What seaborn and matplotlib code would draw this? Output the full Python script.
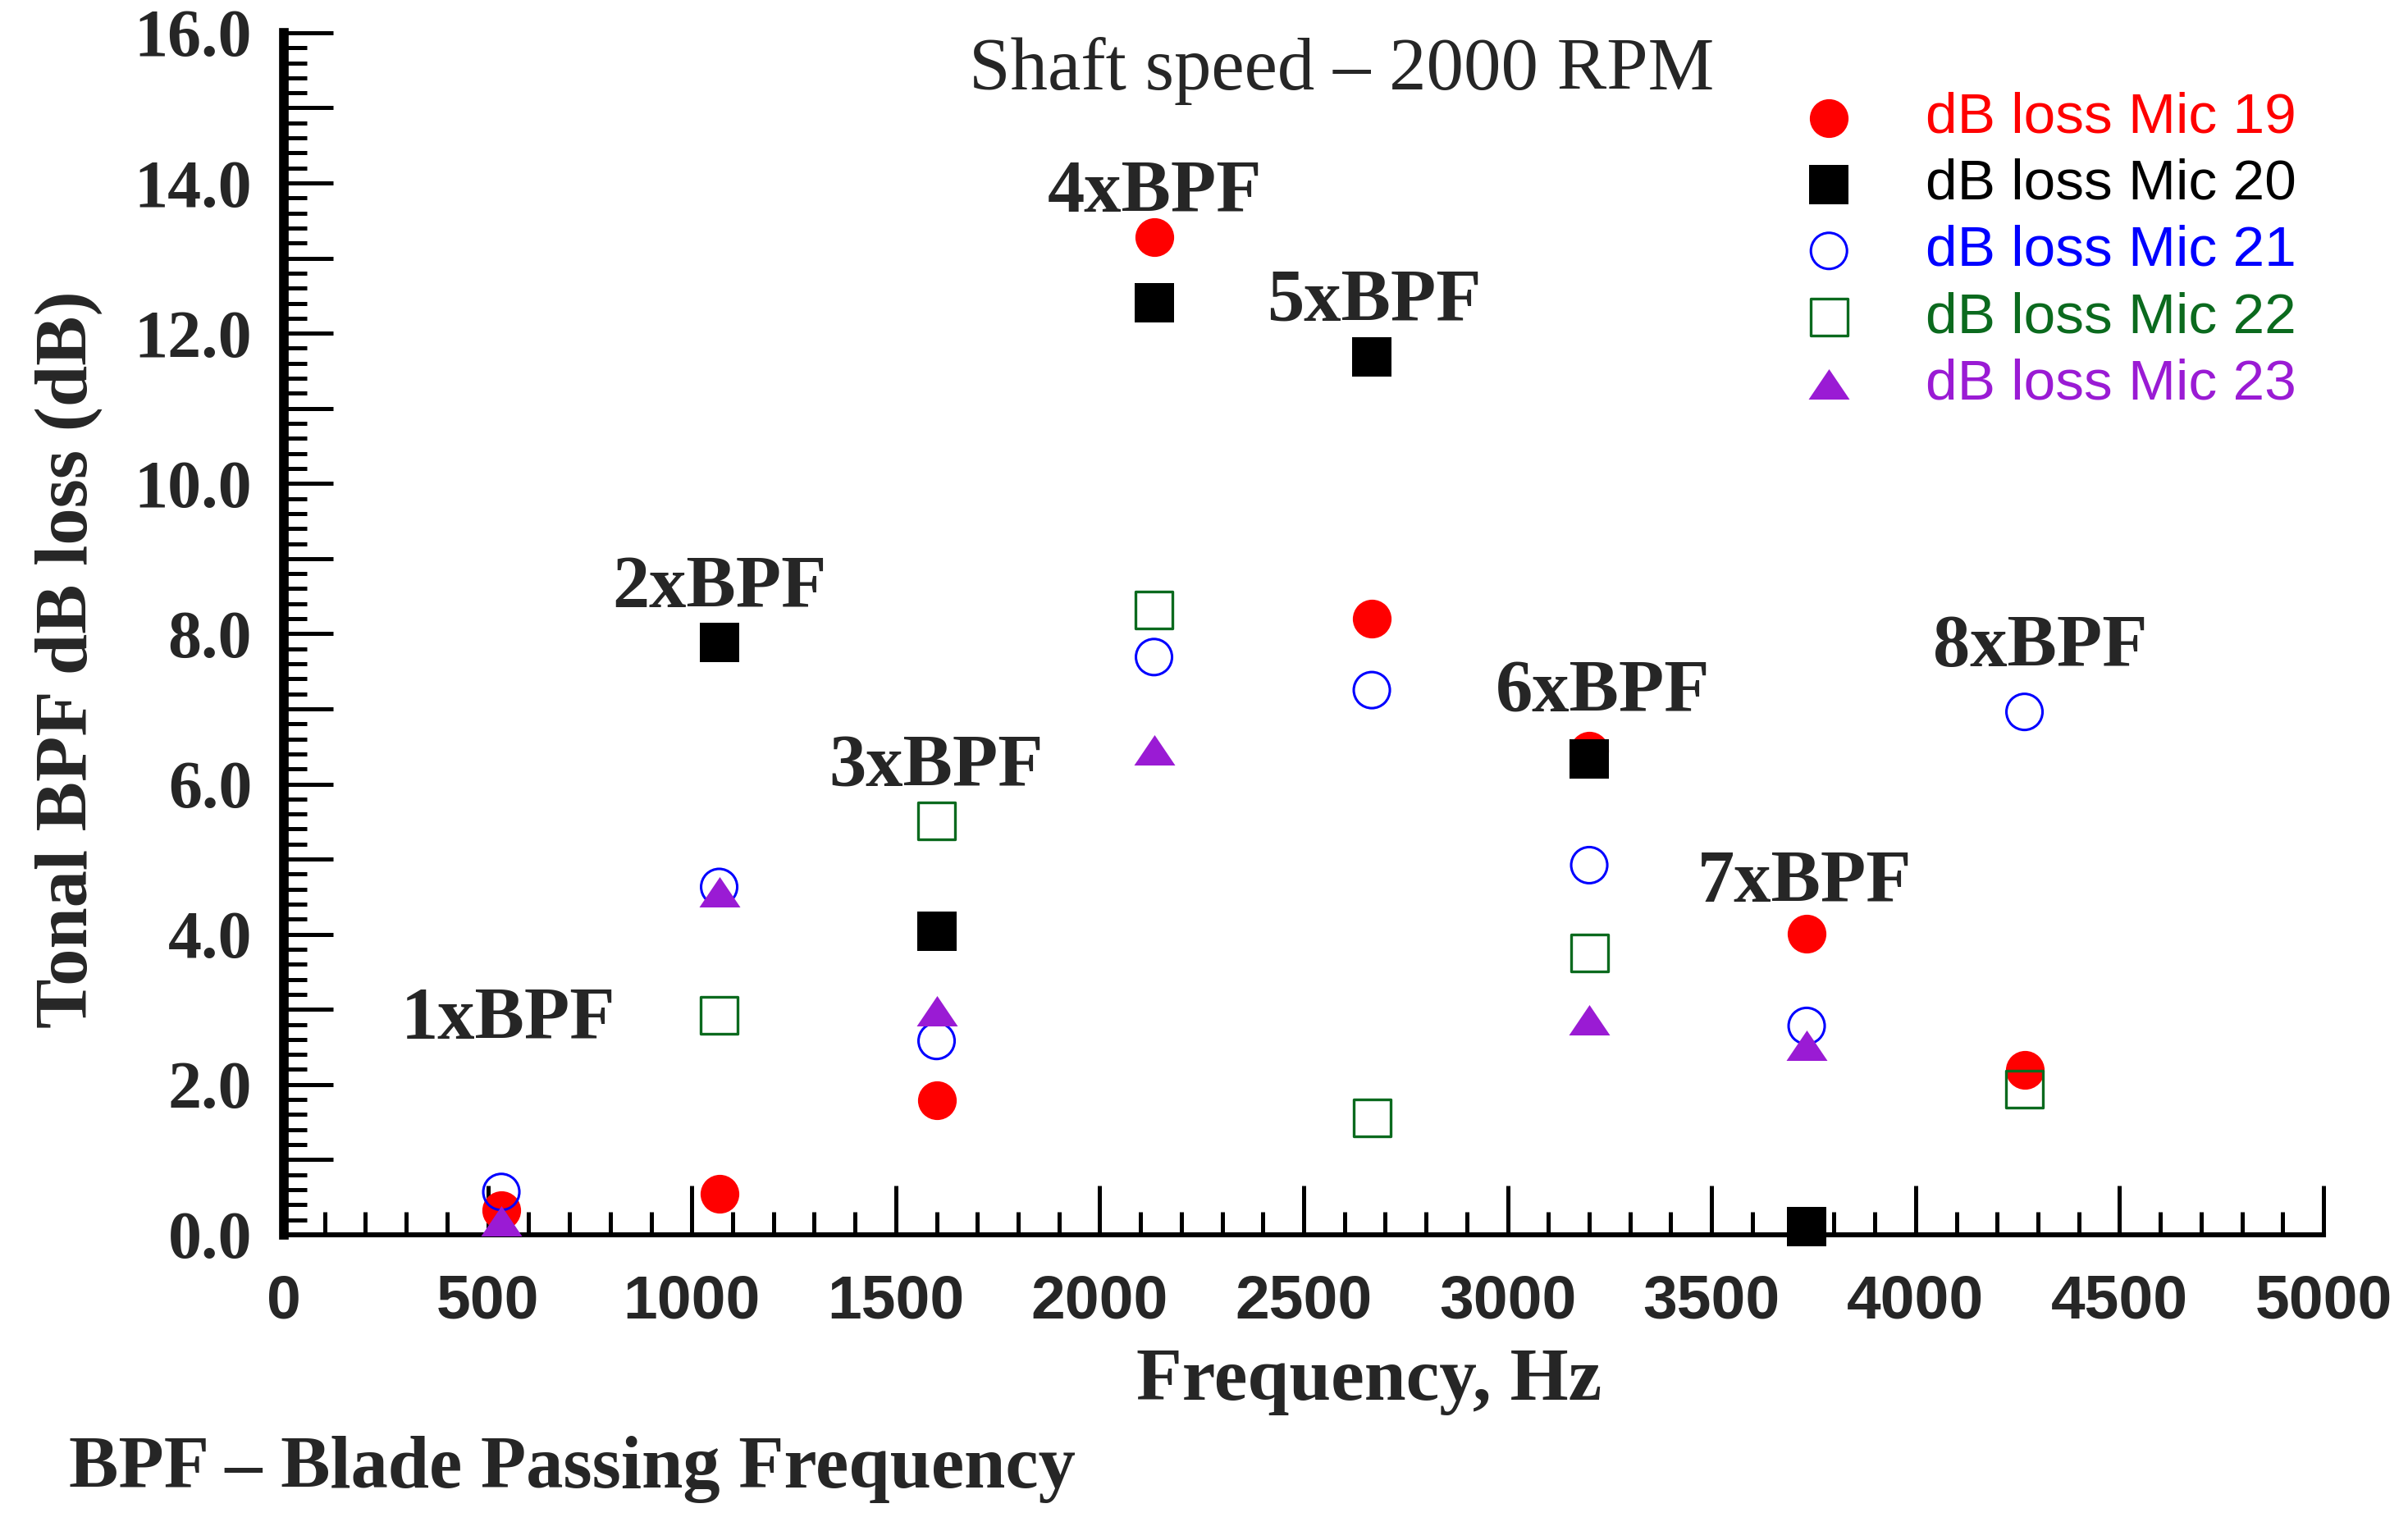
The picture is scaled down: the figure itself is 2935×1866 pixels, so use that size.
import numpy as np
import matplotlib
matplotlib.use("Agg")
import matplotlib.pyplot as plt
import seaborn as sns
from matplotlib.path import Path
from matplotlib.ticker import MultipleLocator, FixedLocator, FuncFormatter

# harmonics of the blade passing frequency (Hz)
freq = [533, 1067, 1600, 2133, 2667, 3200, 3733, 4267]
harmonic = ['1xBPF', '2xBPF', '3xBPF', '4xBPF', '5xBPF', '6xBPF', '7xBPF', '8xBPF']

# dB loss per microphone
mic19 = [0.33, 0.55, 1.79, 13.28, 8.20, 6.44, 4.01, 2.19]
mic20 = [np.nan, 7.88, 4.04, 12.41, 11.69, 6.33, 0.11, np.nan]
mic21 = [0.57, 4.63, 2.58, 7.69, 7.25, 4.92, 2.78, 6.96]
mic22 = [np.nan, 2.92, 5.51, 8.32, 1.56, 3.75, np.nan, 1.94]
mic23 = [0.18, 4.56, 2.98, 6.45, np.nan, 2.86, 2.52, np.nan]

mic_names = ['dB loss Mic 19', 'dB loss Mic 20', 'dB loss Mic 21',
             'dB loss Mic 22', 'dB loss Mic 23']

# where the harmonic labels sit (Hz, dB)
lab_x = [550, 1068, 1600, 2134, 2673, 3233, 3729, 4305]
lab_y = [2.61, 8.35, 5.98, 13.62, 12.17, 6.97, 4.43, 7.57]

sns.set_theme(style="white")
plt.rcParams['font.family'] = ['Liberation Serif', 'DejaVu Serif']

fig = plt.figure(figsize=(14.675, 9.33), dpi=200)
ax = fig.add_axes([0.1179, 0.1935, 0.8470, 0.7851])

tri = Path([(-1, -0.74), (1, -0.74), (0, 0.74), (-1, -0.74)], closed=True)

red = '#FF0000'
blue = '#0000FF'
green = '#0B6A1E'
purple = '#9A1BD4'

# filled markers
sns.scatterplot(x=freq, y=mic19, ax=ax, marker='o', s=289, color=red,
                edgecolor=red, linewidth=0, label=mic_names[0], zorder=3, clip_on=False)
sns.scatterplot(x=freq, y=mic20, ax=ax, marker='s', s=289, color='black',
                edgecolor='black', linewidth=0, label=mic_names[1], zorder=3, clip_on=False)
# open markers
sns.scatterplot(x=freq, y=mic21, ax=ax, marker='o', s=251, color=blue,
                facecolors='none', edgecolor=blue, linewidth=1.1,
                label=mic_names[2], zorder=3, clip_on=False)
sns.scatterplot(x=freq, y=mic22, ax=ax, marker='s', s=262, color=green,
                facecolors='none', edgecolor=green, linewidth=1.2,
                label=mic_names[3], zorder=3, clip_on=False)
sns.scatterplot(x=freq, y=mic23, ax=ax, marker=tri, s=324, color=purple,
                edgecolor=purple, linewidth=0, label=mic_names[4], zorder=3, clip_on=False)

for t, hx, hy in zip(harmonic, lab_x, lab_y):
    ax.text(hx, hy, t, ha='center', va='baseline', fontsize=32.6,
            fontweight='bold', family='Liberation Serif')

ax.set_xlim(0, 5000)
ax.set_ylim(0, 16)

# axis styling
sns.despine(ax=ax, top=True, right=True)
ax.spines['left'].set_linewidth(4.2)
ax.spines['bottom'].set_linewidth(2.2)
ax.spines['left'].set_color('black')
ax.spines['bottom'].set_color('black')

ax.xaxis.set_major_locator(MultipleLocator(500))
ax.xaxis.set_minor_locator(MultipleLocator(100))
ax.yaxis.set_major_locator(FixedLocator(list(range(0, 17))))
ax.yaxis.set_minor_locator(MultipleLocator(0.2))
ax.yaxis.set_major_formatter(FuncFormatter(lambda v, p: f'{v:.1f}' if int(round(v)) % 2 == 0 else ''))
ax.xaxis.set_major_formatter(FuncFormatter(lambda v, p: f'{int(v)}'))

ax.tick_params(axis='both', which='major', direction='in', length=21.6, width=1.8, color='black')
ax.tick_params(axis='both', which='minor', direction='in', length=10, width=1.8, color='black')
ax.tick_params(axis='y', which='both', left=True, pad=14)
ax.tick_params(axis='x', which='both', bottom=True, pad=17)

for lb in ax.get_yticklabels():
    lb.set_fontfamily('Liberation Serif')
    lb.set_fontweight('bold')
    lb.set_fontsize(29.5)
for lb in ax.get_xticklabels():
    lb.set_fontfamily('Liberation Sans')
    lb.set_fontweight('bold')
    lb.set_fontsize(27)

ax.set_xlabel('Frequency, Hz', fontsize=32.9, fontweight='bold', family='Liberation Serif')
ax.set_ylabel('Tonal BPF dB loss (dB)', fontsize=32.6, fontweight='bold', family='Liberation Serif')
ax.xaxis.set_label_coords(0.532, -0.094)
ax.yaxis.set_label_coords(-0.089, 0.4785)

fig.text(0.557, 0.9416, 'Shaft speed \u2013 2000 RPM', ha='center', va='baseline',
         fontsize=32.7, family='Liberation Serif')
fig.text(0.0286, 0.0284, 'BPF \u2013 Blade Passing Frequency', ha='left', va='baseline',
         fontsize=32.6, fontweight='bold', family='Liberation Serif')

leg = ax.legend(loc='upper left', bbox_to_anchor=(0.7477, 0.940), bbox_transform=fig.transFigure,
                frameon=False, prop={'family': 'Liberation Sans', 'size': 25},
                handlelength=1.0, handletextpad=1.19, labelspacing=0.245,
                borderaxespad=0, borderpad=0, scatterpoints=1,
                labelcolor=[red, 'black', blue, green, purple])

fig.savefig('out.png', dpi=200, facecolor='white')
